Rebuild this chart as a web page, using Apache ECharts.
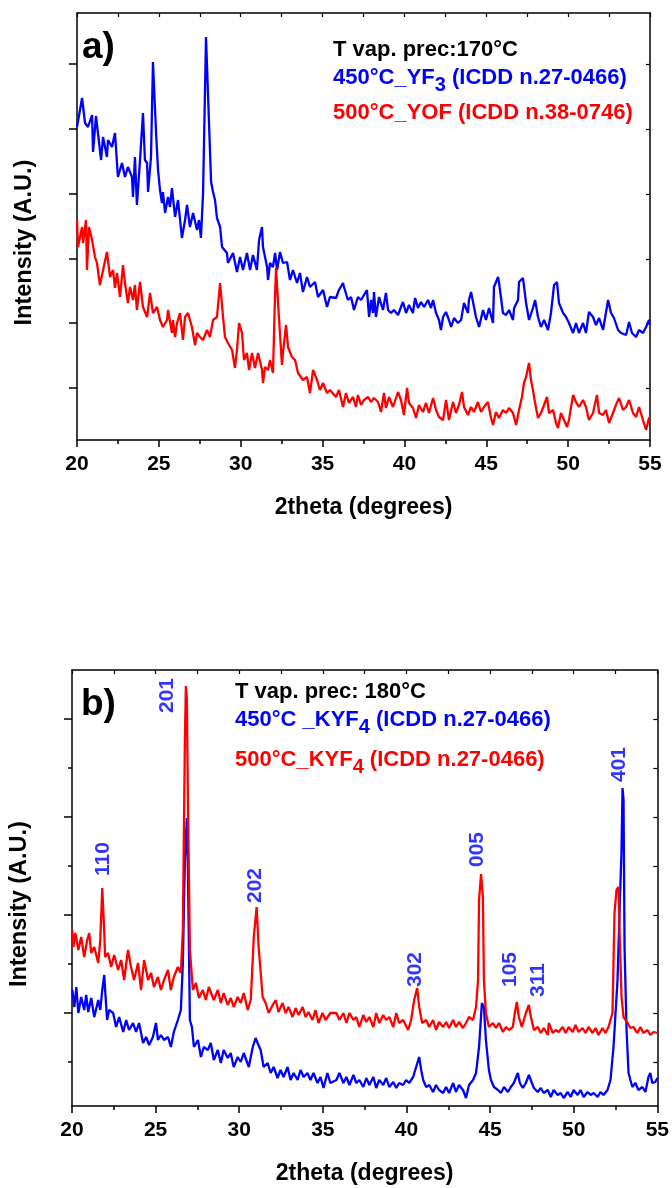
<!DOCTYPE html>
<html>
<head>
<meta charset="utf-8">
<script src="https://cdn.jsdelivr.net/npm/echarts@6/dist/echarts.min.js"></script>
<style>
  html, body { margin: 0; padding: 0; background: #fff; }
  #chart { width: 672px; height: 1188px; }
</style>
</head>
<body>
<div id="chart"></div>
<script>
// panel a) : [2theta, intensity A.U.]
const yf3_450 = [
  [20.00,313],[20.31,342],[20.49,317],[20.67,313],[20.92,325],[20.98,288],[21.16,324],[21.28,307],[21.47,280],[21.59,303],
  [21.83,283],[21.89,300],[22.14,293],[22.32,307],[22.50,263],[22.75,277],[22.93,263],[23.11,273],[23.36,263],[23.42,243],
  [23.54,283],[23.66,235],[23.85,280],[24.03,327],[24.15,280],[24.28,277],[24.34,248],[24.52,283],[24.64,378],[24.83,307],
  [24.95,270],[25.07,250],[25.19,237],[25.25,248],[25.38,227],[25.56,243],[25.68,233],[25.80,252],[25.99,223],[26.17,240],
  [26.41,202],[26.60,220],[26.72,235],[26.90,213],[27.09,227],[27.33,210],[27.45,220],[27.57,202],[27.70,247],[27.88,403],
  [28.00,402],[28.19,258],[28.31,248],[28.43,240],[28.55,222],[28.74,213],[28.86,193],[29.16,187],[29.22,177],[29.53,187],
  [29.77,168],[29.96,183],[30.14,170],[30.38,187],[30.57,170],[30.75,185],[30.99,170],[31.12,200],[31.30,213],[31.36,193],
  [31.61,173],[31.67,160],[31.79,177],[31.97,173],[32.10,187],[32.22,170],[32.40,188],[32.58,177],[32.83,178],[33.01,160],
  [33.19,170],[33.44,157],[33.62,167],[33.80,148],[34.05,163],[34.23,153],[34.54,158],[34.72,143],[35.03,150],[35.27,133],
  [35.45,143],[35.82,142],[36.00,150],[36.25,157],[36.31,153],[36.55,140],[36.74,143],[36.92,130],[37.16,143],[37.35,140],
  [37.53,145],[37.71,150],[37.84,123],[37.96,140],[38.08,127],[38.14,148],[38.26,123],[38.45,143],[38.69,130],[38.87,147],
  [39.00,130],[39.18,127],[39.36,130],[39.61,125],[39.79,133],[39.91,138],[40.10,127],[40.28,135],[40.52,127],[40.65,142],
  [40.83,132],[41.01,138],[41.20,133],[41.44,140],[41.62,132],[41.75,140],[41.93,127],[42.11,120],[42.23,110],[42.36,123],
  [42.54,128],[42.72,120],[42.85,113],[43.03,122],[43.27,117],[43.46,120],[43.64,137],[43.88,127],[43.94,140],[44.07,148],
  [44.19,150],[44.37,123],[44.56,113],[44.80,130],[44.98,120],[45.17,132],[45.41,117],[45.47,153],[45.72,163],[45.78,157],
  [46.02,127],[46.21,125],[46.39,130],[46.63,120],[46.70,132],[46.94,140],[47.00,158],[47.24,162],[47.43,137],[47.61,120],
  [47.85,132],[47.98,140],[48.16,123],[48.34,113],[48.53,120],[48.77,110],[48.95,127],[49.14,155],[49.32,158],[49.44,137],
  [49.69,127],[49.87,123],[50.05,117],[50.30,107],[50.48,117],[50.66,107],[50.91,117],[51.09,107],[51.27,128],[51.52,123],
  [51.70,115],[51.89,122],[52.13,110],[52.44,140],[52.62,127],[52.80,122],[53.05,110],[53.23,107],[53.54,105],[53.72,118],
  [53.90,107],[54.15,103],[54.33,110],[54.57,107],[54.76,113],[54.94,120],[55.00,115]
];
const yof_500 = [
  [20.00,220],[20.06,193],[20.31,213],[20.37,197],[20.55,220],[20.61,170],[20.73,213],[20.92,200],[21.10,183],[21.22,177],
  [21.40,155],[21.53,165],[21.83,188],[22.02,163],[22.20,170],[22.32,152],[22.44,167],[22.63,143],[22.81,175],[22.93,157],
  [23.11,137],[23.24,153],[23.42,140],[23.54,155],[23.66,130],[23.85,158],[24.03,133],[24.28,123],[24.46,147],[24.64,127],
  [24.89,133],[25.07,120],[25.25,113],[25.50,120],[25.56,130],[25.80,107],[25.86,120],[25.99,103],[26.11,117],[26.29,127],
  [26.47,100],[26.60,123],[26.78,127],[27.02,113],[27.21,95],[27.33,107],[27.51,103],[27.70,100],[27.94,110],[28.12,103],
  [28.31,120],[28.55,123],[28.74,157],[28.92,123],[29.04,103],[29.22,97],[29.47,90],[29.65,72],[29.77,90],[29.90,117],
  [30.08,107],[30.20,80],[30.38,87],[30.51,70],[30.69,87],[30.87,72],[31.06,87],[31.30,70],[31.36,57],[31.48,73],
  [31.67,70],[31.79,80],[31.97,67],[32.10,147],[32.16,172],[32.28,137],[32.52,75],[32.58,87],[32.77,115],[32.89,93],
  [33.13,83],[33.32,80],[33.50,67],[33.80,60],[34.05,63],[34.23,47],[34.42,70],[34.66,60],[34.84,50],[35.03,57],
  [35.27,47],[35.45,50],[35.82,43],[36.00,50],[36.25,33],[36.43,47],[36.61,37],[36.86,43],[37.04,33],[37.16,45],
  [37.35,35],[37.53,40],[37.78,43],[37.96,38],[38.14,42],[38.39,38],[38.57,28],[38.75,47],[38.87,32],[39.06,43],
  [39.30,33],[39.61,48],[39.79,40],[39.97,25],[40.16,52],[40.28,37],[40.52,32],[40.71,22],[40.89,35],[41.13,28],
  [41.32,37],[41.50,27],[41.75,42],[41.93,30],[42.11,23],[42.36,20],[42.54,40],[42.72,20],[42.97,38],[43.15,27],
  [43.33,35],[43.52,48],[43.64,33],[43.88,25],[44.07,33],[44.25,28],[44.49,38],[44.68,28],[44.86,33],[45.10,38],
  [45.29,22],[45.41,15],[45.59,28],[45.78,22],[46.02,30],[46.21,27],[46.39,32],[46.63,27],[46.82,15],[47.00,30],
  [47.18,43],[47.30,57],[47.43,63],[47.61,77],[47.73,60],[47.85,50],[47.98,37],[48.16,22],[48.34,27],[48.53,35],
  [48.71,43],[48.83,27],[49.08,30],[49.26,17],[49.38,12],[49.56,27],[49.75,20],[49.93,13],[50.05,20],[50.30,45],
  [50.48,38],[50.66,33],[50.91,40],[51.09,33],[51.27,20],[51.52,27],[51.76,45],[51.89,27],[52.13,25],[52.31,30],
  [52.50,17],[52.74,27],[52.92,35],[53.11,42],[53.35,30],[53.54,33],[53.72,40],[53.96,27],[54.15,23],[54.33,33],
  [54.57,20],[54.76,10],[54.94,22],[55.00,23]
];

// panel b) : [2theta, intensity A.U.]
const kyf4_450 = [
  [20.02,116],[20.14,99],[20.26,119],[20.38,93],[20.55,109],[20.73,96],[20.85,111],[20.97,94],[21.15,108],[21.33,89],
  [21.57,106],[21.69,96],[21.81,116],[21.93,131],[21.98,116],[22.10,86],[22.22,96],[22.46,93],[22.64,79],[22.82,89],
  [23.06,74],[23.24,86],[23.41,76],[23.65,83],[23.83,74],[24.01,83],[24.25,63],[24.43,69],[24.61,61],[24.84,69],
  [25.02,83],[25.14,66],[25.32,71],[25.50,66],[25.74,69],[25.91,59],[26.09,74],[26.33,86],[26.51,96],[26.63,143],
  [26.75,246],[26.87,288],[26.93,236],[27.05,86],[27.17,79],[27.29,59],[27.53,66],[27.71,49],[27.88,59],[28.12,56],
  [28.30,63],[28.48,46],[28.72,56],[28.90,43],[29.07,56],[29.31,48],[29.49,53],[29.67,39],[29.91,49],[30.09,44],
  [30.27,53],[30.57,39],[30.81,59],[30.98,68],[31.10,63],[31.28,56],[31.46,39],[31.70,43],[31.88,33],[32.06,39],
  [32.29,28],[32.47,36],[32.65,29],[32.89,39],[33.07,26],[33.25,33],[33.49,26],[33.67,36],[33.85,29],[34.08,33],
  [34.26,26],[34.44,33],[34.68,23],[34.86,29],[35.04,18],[35.27,33],[35.45,23],[35.81,26],[35.99,33],[36.23,23],
  [36.41,29],[36.59,21],[36.83,31],[37.00,23],[37.18,26],[37.42,19],[37.60,28],[37.78,21],[38.02,29],[38.19,18],
  [38.37,26],[38.61,21],[38.79,28],[38.97,19],[39.21,24],[39.39,18],[39.56,23],[39.80,21],[39.98,26],[40.16,23],
  [40.40,29],[40.58,39],[40.76,49],[40.88,36],[41.00,26],[41.18,19],[41.36,21],[41.59,14],[41.77,21],[41.95,16],
  [42.19,13],[42.37,19],[42.55,13],[42.79,23],[42.96,14],[43.14,21],[43.38,16],[43.56,8],[43.74,21],[43.98,26],
  [44.16,33],[44.34,59],[44.51,103],[44.63,99],[44.75,66],[44.93,36],[45.05,26],[45.23,19],[45.47,16],[45.65,13],
  [45.83,19],[46.07,14],[46.24,19],[46.42,23],[46.66,33],[46.78,23],[46.96,18],[47.14,23],[47.32,31],[47.50,23],
  [47.62,18],[47.85,14],[48.03,18],[48.21,13],[48.45,16],[48.63,9],[48.80,16],[49.04,11],[49.22,13],[49.40,8],
  [49.64,14],[49.82,9],[50.00,16],[50.23,11],[50.41,16],[50.59,9],[50.83,14],[51.01,11],[51.19,13],[51.43,9],
  [51.60,14],[51.78,11],[52.02,16],[52.20,26],[52.38,59],[52.62,126],[52.74,193],[52.86,256],[52.92,318],[52.98,306],
  [53.04,159],[53.16,76],[53.28,33],[53.39,26],[53.51,19],[53.69,23],[53.87,16],[54.11,19],[54.29,14],[54.47,29],
  [54.58,33],[54.70,23],[54.88,24],[55.00,28]
];
const kyf4_500 = [
  [20.02,176],[20.08,159],[20.20,173],[20.38,156],[20.55,169],[20.73,149],[20.91,166],[21.03,173],[21.15,153],[21.33,159],
  [21.57,143],[21.69,166],[21.81,218],[21.93,173],[21.98,149],[22.16,153],[22.34,139],[22.52,151],[22.76,136],[22.94,146],
  [23.12,126],[23.35,156],[23.53,139],[23.71,126],[23.95,143],[24.13,116],[24.31,146],[24.55,126],[24.73,133],[24.90,119],
  [25.14,129],[25.32,116],[25.50,126],[25.74,136],[25.91,116],[26.09,129],[26.33,139],[26.51,133],[26.63,176],[26.75,366],
  [26.81,420],[26.87,406],[26.93,306],[27.05,156],[27.23,116],[27.41,123],[27.59,108],[27.82,116],[28.00,106],[28.18,119],
  [28.48,106],[28.72,116],[28.90,103],[29.07,113],[29.31,101],[29.49,108],[29.67,99],[29.91,109],[30.09,103],[30.27,113],
  [30.51,96],[30.69,106],[30.87,169],[31.04,199],[31.16,159],[31.40,109],[31.58,103],[31.76,93],[32.00,101],[32.18,106],
  [32.35,94],[32.59,103],[32.77,93],[32.95,99],[33.19,89],[33.37,98],[33.55,91],[33.79,99],[33.97,89],[34.14,94],
  [34.38,86],[34.56,96],[34.74,83],[34.98,93],[35.16,86],[35.45,93],[35.81,93],[35.99,86],[36.23,93],[36.41,83],
  [36.59,93],[36.83,86],[37.00,89],[37.18,79],[37.42,91],[37.60,84],[37.78,89],[38.02,79],[38.19,93],[38.37,83],
  [38.61,91],[38.79,86],[38.97,89],[39.21,79],[39.39,93],[39.56,83],[39.80,86],[40.10,76],[40.28,86],[40.46,106],
  [40.64,118],[40.76,99],[40.94,83],[41.18,86],[41.36,79],[41.59,86],[41.77,76],[41.95,84],[42.19,79],[42.37,84],
  [42.55,78],[42.79,86],[42.96,79],[43.14,84],[43.38,78],[43.56,83],[43.74,89],[43.98,86],[44.16,99],[44.28,126],
  [44.34,206],[44.46,232],[44.57,209],[44.63,126],[44.75,93],[44.93,79],[45.17,83],[45.35,78],[45.53,83],[45.77,74],
  [45.95,79],[46.13,76],[46.36,79],[46.48,93],[46.60,104],[46.72,89],[46.90,79],[47.02,86],[47.14,93],[47.32,101],
  [47.44,89],[47.62,76],[47.85,79],[48.03,73],[48.21,78],[48.45,71],[48.51,83],[48.75,73],[48.92,76],[49.10,74],
  [49.34,79],[49.52,73],[49.70,79],[49.94,74],[50.11,81],[50.29,74],[50.53,78],[50.71,73],[50.89,79],[51.13,73],
  [51.31,78],[51.48,71],[51.72,78],[51.90,73],[52.08,79],[52.32,93],[52.44,193],[52.56,216],[52.68,219],[52.74,176],
  [52.86,109],[52.98,89],[53.22,83],[53.39,78],[53.57,79],[53.81,73],[53.99,79],[54.17,73],[54.41,76],[54.58,71],
  [54.76,74],[55.00,73]
];

// hkl reflection labels of panel b): 2theta, intensity at label foot
const hklNames = ['110', '201', '202', '302', '005', '105', '311', '401'];
const hklTheta = [21.87, 25.68, 30.98, 40.52, 44.21, 46.22, 47.89, 52.73];
const hklFoot  = [230, 393, 203, 119, 239, 119, 109, 324];

const xTicks = [20, 25, 30, 35, 40, 45, 50, 55];
const yTicksA = [52, 117, 181, 246, 311, 376];
const yTicksB = [93, 191, 289, 387];
const yMinorB = [44, 142, 240, 338];

const FONT = "'Liberation Sans', Arial, Helvetica, sans-serif";
const BLUE = '#0000ff';
const RED = '#ff0000';
const frame = { show: true, onZero: false, lineStyle: { color: '#000', width: 1.5 } };

const bottomX = (grid) => ({
    type: 'value', gridIndex: grid, position: 'bottom', min: 20, max: 55, interval: 5,
    axisLine: frame,
    axisTick: { show: true, inside: false, length: 7, lineStyle: { color: '#000', width: 1.5 } },
    minorTick: { show: true, splitNumber: 2, length: 4, lineStyle: { color: '#000', width: 1.5 } },
    axisLabel: { show: true, color: '#000', fontFamily: FONT, fontWeight: 'bold', fontSize: 21, margin: 14,
        customValues: xTicks },
    splitLine: { show: false },
    name: '2theta (degrees)', nameLocation: 'middle', nameGap: 56,
    nameTextStyle: { color: '#000', fontFamily: FONT, fontWeight: 'bold', fontSize: 23 }
});
const topX = (grid) => ({
    type: 'value', gridIndex: grid, position: 'top', min: 20, max: 55, interval: 2.5,
    axisLine: frame,
    axisTick: { show: true, inside: true, length: 4, lineStyle: { color: '#000', width: 1.2 } },
    axisLabel: { show: false }, splitLine: { show: false }
});
const leftY = (grid, max, ticks, len, named) => ({
    type: 'value', gridIndex: grid, position: 'left', min: 0, max: max,
    axisLine: named ? frame : { show: false },
    axisTick: { show: true, inside: false, length: len, customValues: ticks,
        lineStyle: { color: '#000', width: 1.5 } },
    axisLabel: { show: false }, splitLine: { show: false },
    name: named ? 'Intensity (A.U.)' : '', nameLocation: 'middle', nameGap: 40,
    nameTextStyle: { color: '#000', fontFamily: FONT, fontWeight: 'bold', fontSize: 23.5,
        padding: [0, 32, 0, 0] }
});
const rightY = (grid, max, ticks) => ({
    type: 'value', gridIndex: grid, position: 'right', min: 0, max: max,
    axisLine: frame,
    axisTick: { show: true, inside: true, length: 4, customValues: ticks,
        lineStyle: { color: '#000', width: 1.2 } },
    axisLabel: { show: false }, splitLine: { show: false }
});

const lineSeries = (name, data, color, xi, yi, width) => ({
    name: name, type: 'line', data: data, xAxisIndex: xi, yAxisIndex: yi,
    showSymbol: false, symbol: 'none', smooth: false, animation: false,
    lineStyle: { color: color, width: width }
});

const txt = (x, y, text, color, size, rich) => ({
    type: 'text', x: x, y: y, z: 100,
    style: { text: text, fill: color, fontFamily: FONT, fontWeight: 'bold', fontSize: size,
        verticalAlign: 'middle', rich: rich }
});
const subRich = (color) => ({
    n: { fill: color, fontFamily: FONT, fontWeight: 'bold', fontSize: 22 },
    s: { fill: color, fontFamily: FONT, fontWeight: 'bold', fontSize: 20, padding: [14, 0, 0, 0] }
});

const chart = echarts.init(document.getElementById('chart'), null, { renderer: 'canvas' });
chart.setOption({
    animation: false,
    backgroundColor: '#fff',
    grid: [
        { left: 77, right: 22, top: 13, height: 427 },
        { left: 71, right: 14, top: 670, height: 436 }
    ],
    xAxis: [bottomX(0), topX(0), bottomX(1), topX(1)],
    yAxis: [
        leftY(0, 427, yTicksA, 8, true),
        rightY(0, 427, yTicksA),
        leftY(1, 436, yTicksB, 8, true),
        leftY(1, 436, yMinorB, 4, false),
        rightY(1, 436, yTicksB.concat(yMinorB))
    ],
    series: [
        lineSeries('450°C_YF3', yf3_450, BLUE, 0, 0, 2.3),
        lineSeries('500°C_YOF', yof_500, RED, 0, 0, 2.3),
        lineSeries('450°C_KYF4', kyf4_450, BLUE, 2, 2, 2.3),
        lineSeries('500°C_KYF4', kyf4_500, RED, 2, 2, 2.3),
        {
            name: 'hkl', type: 'scatter', xAxisIndex: 2, yAxisIndex: 2,
            symbolSize: 0, silent: true, animation: false,
            data: hklNames.map((n, i) => ({ name: n, value: [hklTheta[i], hklFoot[i]] })),
            label: {
                show: true, position: 'top', distance: 0, rotate: 90,
                align: 'left', verticalAlign: 'middle',
                formatter: '{b}', color: BLUE, fontFamily: FONT, fontWeight: 'bold', fontSize: 21
            }
        }
    ],
    graphic: [
        txt(82, 48, 'a)', '#000', 37),
        txt(333, 50, 'T vap. prec:170°C', '#000', 22),
        txt(333, 78, '{n|450°C_YF}{s|3}{n| (ICDD n.27-0466)}', BLUE, 22, subRich(BLUE)),
        txt(333, 113, '500°C_YOF (ICDD n.38-0746)', RED, 22),
        txt(81, 705, 'b)', '#000', 37),
        txt(235, 692, 'T vap. prec: 180°C', '#000', 22),
        txt(235, 720, '{n|450°C _KYF}{s|4}{n| (ICDD n.27-0466)}', BLUE, 22, subRich(BLUE)),
        txt(235, 760, '{n|500°C_KYF}{s|4}{n| (ICDD n.27-0466)}', RED, 22, subRich(RED))
    ]
});
</script>
</body>
</html>
